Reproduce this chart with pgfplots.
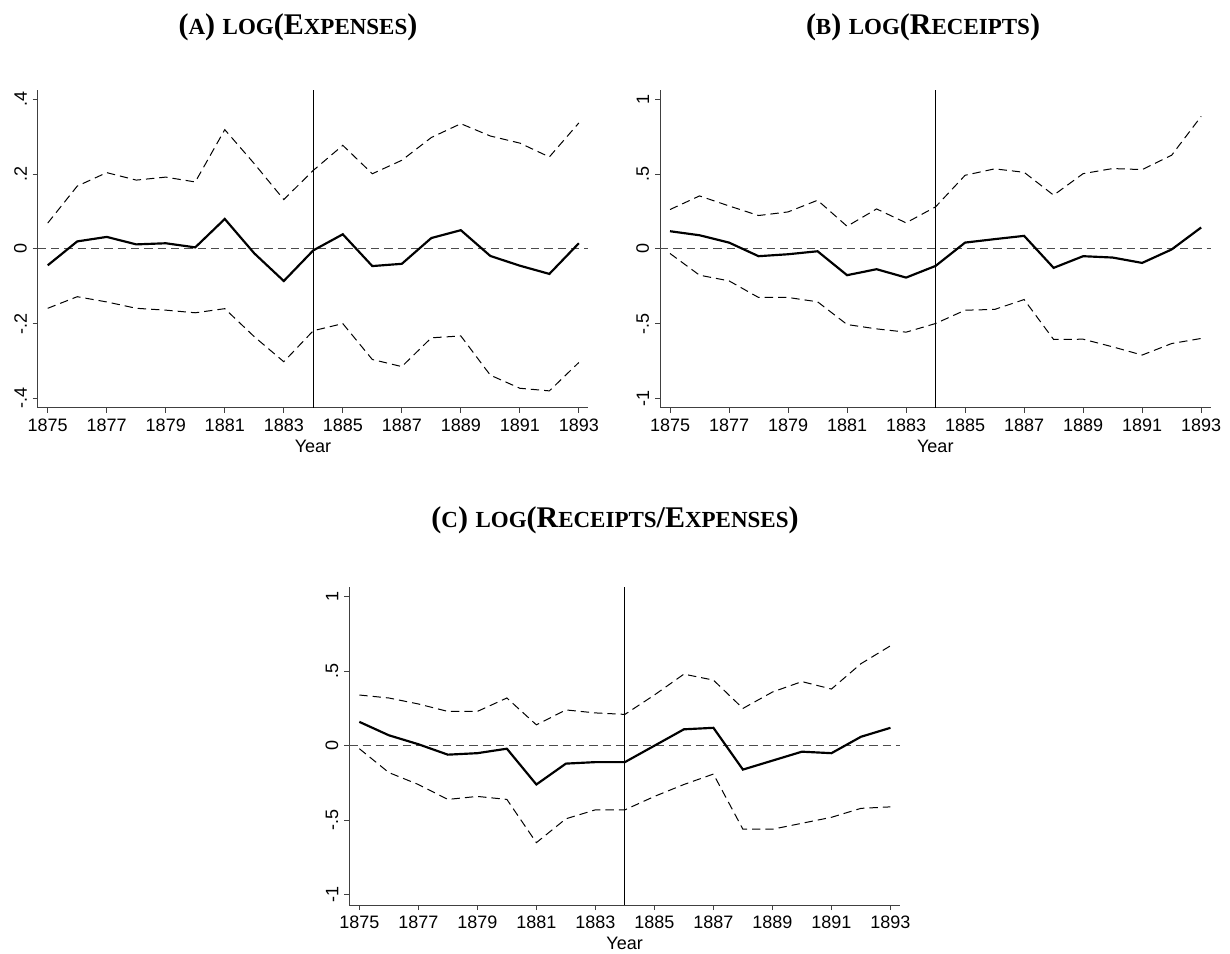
\documentclass[border=0pt]{standalone}
\usepackage{fontspec}
\setmainfont{Liberation Serif}
\newfontfamily\sansf{Liberation Sans}
\usepackage{pgfplots}
\pgfplotsset{compat=1.18}
\newcommand{\bigf}{\fontsize{18pt}{20pt}\selectfont}
\newcommand{\smf}{\fontsize{13.8pt}{16pt}\selectfont}
\newcommand{\ttl}[2]{\textbf{\bigf(\smf #1\bigf) {\smf LOG}(#2)}}
\pgfplotsset{
  statastyle/.style={
    scale only axis,
    width=330.36pt, height=190.6pt,
    axis x line*=bottom, axis y line*=left,
    axis line style={black!75, line width=0.6pt, -},
    tick style={black!75, line width=0.6pt},
    major tick length=3pt,
    tick align=outside,
    xmin=1874.66, xmax=1893.32,
    xtick={1875,1877,...,1893},
    xticklabels={1875,1877,1879,1881,1883,1885,1887,1889,1891,1893},
    ticklabel style={font=\sansf\fontsize{10.8pt}{12pt}\selectfont, text=black},
    yticklabel style={rotate=90, anchor=south},
    xlabel={Year},
    xlabel style={font=\sansf\fontsize{10.8pt}{12pt}\selectfont, yshift=1.5pt},
    clip=false,
  },
  est/.style={black, line width=1.3pt, mark=none},
  ci/.style={black, line width=0.6pt, dash pattern=on 5pt off 3pt, mark=none},
  zero/.style={black!70, line width=0.6pt, dash pattern=on 5pt off 3pt, mark=none},
  vline/.style={black, line width=0.7pt, mark=none},
}
\begin{document}
\begin{tikzpicture}[x=0.6pt,y=0.6pt]
\useasboundingbox (0,0) rectangle (1230,953);
\node[anchor=center] at (298,926) {\ttl{A}{E{\smf XPENSES}}};
\node[anchor=center] at (923,926) {\ttl{B}{R{\smf ECEIPTS}}};
\node[anchor=center] at (615,433) {\ttl{C}{R{\smf ECEIPTS}/E{\smf XPENSES}}};
% Panel A
\begin{axis}[statastyle, at={(22.62pt,327.18pt)}, anchor=south west,
  ymin=-0.425, ymax=0.425,
  ytick={-0.4,-0.2,0,0.2,0.4}, yticklabels={-.4,-.2,0,.2,.4}]
\addplot[zero] coordinates {(1874.66,0) (1893.32,0)};
\addplot[vline] coordinates {(1884,-0.425) (1884,0.425)};
\addplot[ci] coordinates {(1875,0.069)(1876,0.168)(1877,0.204)(1878,0.184)(1879,0.192)(1880,0.179)(1881,0.319)(1882,0.228)(1883,0.132)(1884,0.210)(1885,0.277)(1886,0.201)(1887,0.237)(1888,0.298)(1889,0.335)(1890,0.302)(1891,0.283)(1892,0.246)(1893,0.337)};
\addplot[ci] coordinates {(1875,-0.159)(1876,-0.128)(1877,-0.142)(1878,-0.159)(1879,-0.164)(1880,-0.171)(1881,-0.160)(1882,-0.235)(1883,-0.302)(1884,-0.219)(1885,-0.200)(1886,-0.296)(1887,-0.315)(1888,-0.238)(1889,-0.233)(1890,-0.338)(1891,-0.373)(1892,-0.380)(1893,-0.304)};
\addplot[est] coordinates {(1875,-0.044)(1876,0.020)(1877,0.032)(1878,0.012)(1879,0.015)(1880,0.004)(1881,0.080)(1882,-0.012)(1883,-0.086)(1884,-0.004)(1885,0.039)(1886,-0.046)(1887,-0.040)(1888,0.029)(1889,0.050)(1890,-0.019)(1891,-0.045)(1892,-0.067)(1893,0.015)};
\end{axis}
% Panel B
\begin{axis}[statastyle, at={(396pt,327.18pt)}, anchor=south west,
  ymin=-1.062, ymax=1.062,
  ytick={-1,-0.5,0,0.5,1}, yticklabels={-1,-.5,0,.5,1}]
\addplot[zero] coordinates {(1874.66,0) (1893.32,0)};
\addplot[vline] coordinates {(1884,-1.062) (1884,1.062)};
\addplot[ci] coordinates {(1875,0.263)(1876,0.354)(1877,0.287)(1878,0.223)(1879,0.247)(1880,0.325)(1881,0.151)(1882,0.267)(1883,0.174)(1884,0.281)(1885,0.492)(1886,0.535)(1887,0.512)(1888,0.359)(1889,0.503)(1890,0.537)(1891,0.530)(1892,0.626)(1893,0.886)};
\addplot[ci] coordinates {(1875,-0.031)(1876,-0.176)(1877,-0.214)(1878,-0.325)(1879,-0.325)(1880,-0.354)(1881,-0.506)(1882,-0.535)(1883,-0.557)(1884,-0.499)(1885,-0.410)(1886,-0.405)(1887,-0.339)(1888,-0.606)(1889,-0.604)(1890,-0.655)(1891,-0.710)(1892,-0.633)(1893,-0.599)};
\addplot[est] coordinates {(1875,0.118)(1876,0.091)(1877,0.042)(1878,-0.049)(1879,-0.036)(1880,-0.016)(1881,-0.176)(1882,-0.136)(1883,-0.192)(1884,-0.114)(1885,0.042)(1886,0.065)(1887,0.087)(1888,-0.127)(1889,-0.049)(1890,-0.058)(1891,-0.094)(1892,-0.004)(1893,0.143)};
\end{axis}
% Panel C
\begin{axis}[statastyle, at={(209.58pt,28.8pt)}, anchor=south west,
  ymin=-1.068, ymax=1.062,
  ytick={-1,-0.5,0,0.5,1}, yticklabels={-1,-.5,0,.5,1}]
\addplot[zero] coordinates {(1874.66,0) (1893.32,0)};
\addplot[vline] coordinates {(1884,-1.068) (1884,1.062)};
\addplot[ci] coordinates {(1875,0.34)(1876,0.32)(1877,0.28)(1878,0.23)(1879,0.23)(1880,0.32)(1881,0.14)(1882,0.24)(1883,0.22)(1884,0.21)(1885,0.34)(1886,0.48)(1887,0.44)(1888,0.25)(1889,0.36)(1890,0.43)(1891,0.38)(1892,0.55)(1893,0.67)};
\addplot[ci] coordinates {(1875,-0.02)(1876,-0.18)(1877,-0.26)(1878,-0.36)(1879,-0.34)(1880,-0.36)(1881,-0.65)(1882,-0.49)(1883,-0.43)(1884,-0.43)(1885,-0.34)(1886,-0.26)(1887,-0.19)(1888,-0.56)(1889,-0.56)(1890,-0.52)(1891,-0.48)(1892,-0.42)(1893,-0.41)};
\addplot[est] coordinates {(1875,0.16)(1876,0.07)(1877,0.01)(1878,-0.06)(1879,-0.05)(1880,-0.02)(1881,-0.26)(1882,-0.12)(1883,-0.11)(1884,-0.11)(1885,0.00)(1886,0.11)(1887,0.12)(1888,-0.16)(1889,-0.10)(1890,-0.04)(1891,-0.05)(1892,0.06)(1893,0.12)};
\end{axis}
\end{tikzpicture}
\end{document}
